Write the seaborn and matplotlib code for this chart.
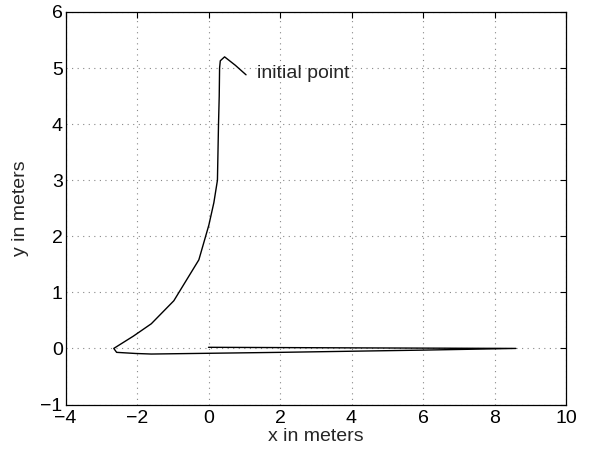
import matplotlib
matplotlib.use("Agg")
import matplotlib.pyplot as plt
import seaborn as sns
import pandas as pd

# Robot trajectory, in metres, starting from the initial point
x_m = [1.05, 0.75, 0.45, 0.33, 0.31, 0.30, 0.28, 0.25, 0.15, 0.01, -0.27,
       -0.97, -1.6, -2.1, -2.65, -2.57, -2.04, -1.6, 2.0, 6.0, 8.6, 4.0, 0.0]
y_m = [4.88, 5.05, 5.20, 5.13, 5.0, 4.5, 4.0, 3.0, 2.6, 2.2, 1.58,
       0.85, 0.44, 0.22, 0.0, -0.07, -0.09, -0.10, -0.07, -0.03, 0.0, 0.01, 0.02]

x_ticks = [-4, -2, 0, 2, 4, 6, 8, 10]
y_ticks = [-1, 0, 1, 2, 3, 4, 5, 6]

sns.set_style("white")
plt.rcParams["font.family"] = ["Liberation Sans", "DejaVu Sans"]
plt.rcParams["axes.unicode_minus"] = True

df = pd.DataFrame({"x": x_m, "y": y_m})

fig = plt.figure(figsize=(5.91, 4.5), dpi=100)
ax = fig.add_axes([65.5 / 591, 1 - 404.5 / 450, 500.5 / 591, 392.5 / 450])

sns.lineplot(data=df, x="x", y="y", sort=False, estimator=None,
             color="black", linewidth=1.0, ax=ax)

ax.set_xlim(-4, 10)
ax.set_ylim(-1, 6)
ax.set_xticks(x_ticks)
ax.set_yticks(y_ticks)
ax.grid(True, linestyle=(0, (1, 4)), color="#888888", linewidth=0.8)
ax.tick_params(direction="in", length=4, width=0.8, top=True, right=True,
               labelsize=14, colors="black")
ax.tick_params(axis="x", pad=4)
ax.tick_params(axis="y", pad=2)
for s in ax.spines.values():
    s.set_color("black")
    s.set_linewidth(0.9)
    s.set_visible(True)

ax.set_xlabel("x in meters", fontsize=14, labelpad=1)
ax.set_ylabel("y in meters", fontsize=14, labelpad=8)

ax.text(1.36, 4.91, "initial point", fontsize=14, ha="left", va="center")

fig.savefig("out.png", dpi=100)
